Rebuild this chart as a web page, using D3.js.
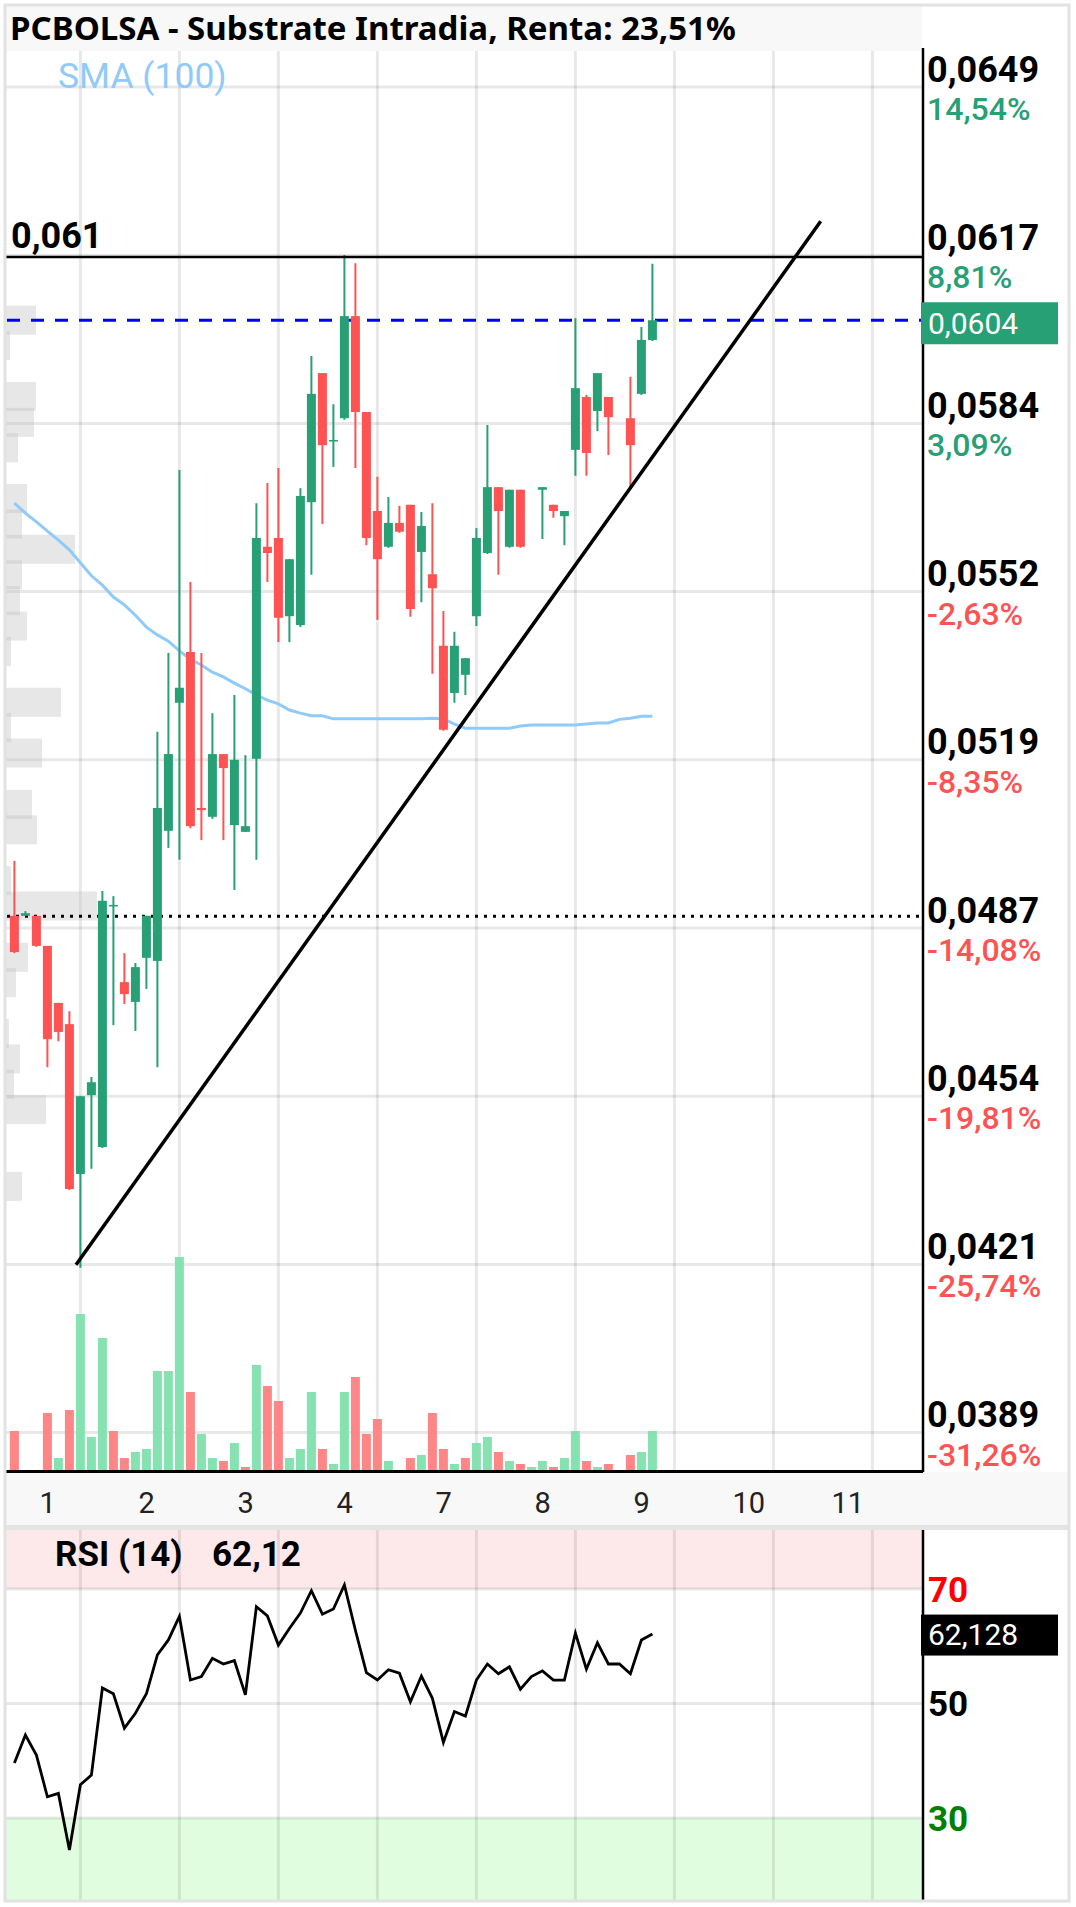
<!DOCTYPE html>
<html><head><meta charset="utf-8">
<script src="https://cdn.jsdelivr.net/npm/d3@7"></script>
<style>html,body{margin:0;padding:0;background:#fff;} svg{display:block}</style>
</head><body><div id="chart"></div>
<script>
// ---------------- DATA ----------------
const title = "PCBOLSA - Substrate Intradia, Renta: 23,51%";
const smaLabel = "SMA (100)";
const dayLabels = ["1","2","3","4","7","8","9","10","11"];
const dayLabelIndex = [3,12,21,30,39,48,57,66,75];
const dayGridIndex = [6,15,24,33,42,51,60,69,78];

const opens = [0.04891,0.04891,0.04891,0.04833,0.04723,0.04682,0.04393,0.04545,0.04445,0.04910,
 0.04763,0.04725,0.04810,0.04804,0.05055,0.05302,0.05400,0.05099,0.05082,0.05203,
 0.05066,0.05053,0.05194,0.05603,0.05620,0.05469,0.05452,0.05689,0.05938,0.05807,
 0.05851,0.06048,0.05863,0.05672,0.05603,0.05649,0.05684,0.05593,0.05550,0.05412,
 0.05321,0.05356,0.05469,0.05591,0.05718,0.05603,0.05713,null,0.05713,0.05684,
 0.05662,0.05790,0.05892,0.05865,0.05892,null,0.05851,0.05898,0.06002];
const highs = [0.04997,0.04900,0.04891,0.04833,0.04723,0.04707,0.04543,0.04580,0.04939,0.04929,
 0.04819,0.04800,0.04891,0.05246,0.05398,0.05751,0.05535,0.05398,0.05282,0.05203,
 0.05317,0.05201,0.05687,0.05726,0.05755,0.05579,0.05716,0.05971,0.05938,0.05878,
 0.06166,0.06150,0.05863,0.05738,0.05699,0.05682,0.05684,0.05670,0.05687,0.05479,
 0.05439,0.05388,0.05639,0.05838,0.05718,0.05713,0.05713,null,0.05718,0.05684,
 0.05672,0.06044,0.05896,0.05938,0.05892,null,0.05931,0.06027,0.06149];
const lows = [0.04819,0.04891,0.04831,0.04599,0.04649,0.04362,0.04212,0.04403,0.04443,0.04680,
 0.04721,0.04669,0.04750,0.04599,0.05022,0.04999,0.05060,0.05037,0.05078,0.05037,
 0.04941,0.05053,0.04999,0.05535,0.05419,0.05419,0.05448,0.05549,0.05647,0.05757,
 0.05848,0.05755,0.05606,0.05462,0.05601,0.05630,0.05468,0.05496,0.05358,0.05248,
 0.05302,0.05317,0.05450,0.05589,0.05549,0.05601,0.05601,null,0.05618,0.05659,
 0.05606,0.05740,0.05740,0.05826,0.05780,null,0.05714,0.05896,0.06000];
const closes = [0.04821,0.04896,0.04833,0.04653,0.04667,0.04364,0.04543,0.04570,0.04920,0.04912,
 0.04740,0.04792,0.04891,0.05099,0.05203,0.05331,0.05064,0.05095,0.05203,0.05176,
 0.05192,0.05064,0.05620,0.05591,0.05466,0.05579,0.05701,0.05898,0.05799,0.05809,
 0.06048,0.05863,0.05620,0.05579,0.05649,0.05632,0.05483,0.05643,0.05523,0.05250,
 0.05412,0.05388,0.05620,0.05718,0.05672,0.05713,0.05603,null,0.05718,0.05672,
 0.05672,0.05909,0.05784,0.05938,0.05853,null,0.05799,0.06002,0.06040];
const volumes = [39,0,0,57,12,60,156,33,132,39,
 12,18,21,99,99,213,78,36,12,9,
 27,3,105,84,69,12,21,78,21,6,
 78,93,36,51,9,0,12,15,57,21,
 6,12,27,33,18,9,6,3,9,3,
 12,39,9,3,6,0,15,18,39];
const sma100 = [0.05687,0.05668,0.05651,0.05633,0.05616,0.05597,0.05572,0.05547,0.05529,0.05506,
 0.05491,0.05471,0.05448,0.05433,0.05421,0.05402,0.05386,0.05375,0.05361,0.05352,
 0.05340,0.05329,0.05317,0.05307,0.05300,0.05288,0.05282,0.05277,0.05277,0.05271,
 0.05271,0.05271,0.05271,0.05271,0.05271,0.05271,0.05271,0.05271,0.05272,0.05271,
 0.05261,0.05253,0.05253,0.05253,0.05253,0.05253,0.05257,0.05259,0.05259,0.05259,
 0.05259,0.05259,0.05261,0.05263,0.05263,0.05270,0.05272,0.05276,0.05276];
const rsi14 = [39.6,44.5,41.0,33.7,34.3,24.4,35.8,37.5,52.7,51.7,
 45.7,48.3,51.7,58.5,61.1,65.2,54.1,54.7,57.9,56.9,
 57.5,51.5,66.9,65.3,60.2,63.1,65.8,69.7,65.6,66.5,
 70.7,62.8,55.4,54.1,55.9,55.3,50.3,54.8,50.9,43.2,
 48.6,47.8,54.1,56.9,55.2,56.4,52.5,54.7,55.7,54.1,
 54.1,62.3,56.0,60.6,56.9,56.9,55.2,61.1,62.128];

const priceTicks = [0.0649,0.061655,0.05841,0.055165,0.05192,0.048675,0.04543,0.042185,0.03894];
const priceTickLabels = ["0,0649","0,0617","0,0584","0,0552","0,0519","0,0487","0,0454","0,0421","0,0389"];
const pctTickLabels = ["14,54%","8,81%","3,09%","-2,63%","-8,35%","-14,08%","-19,81%","-25,74%","-31,26%"];

const profilePrices = [0.06040,0.05991,0.05942,0.05893,0.05843,0.05794,0.05745,0.05696,0.05647,0.05598,
 0.05549,0.05499,0.05450,0.05401,0.05352,0.05303,0.05254,0.05205,0.05155,0.05106,
 0.05057,0.05008,0.04959,0.04910,0.04861,0.04811,0.04762,0.04713,0.04664,0.04615,
 0.04566,0.04517,0.04467,0.04418,0.04369];
const profileVols = [31,5,0,31,29,13,0,22,17,70,17,15,22,6,0,56,6,37,0,27,32,0,6,92,0,23,11,0,4,15,9,41,0,0,17];

const resistanceLevel = 0.06162, resistanceLabel = "0,061";
const refLevel = 0.0489;
const trendIdx = [5.6, 73.3];
const trendPrice = [0.04218, 0.06231];
const rsiLevels = [70, 50, 30];
const rsiLevelLabels = ["70","50","30"];

// ---------------- CHART ----------------
const W = 1076, H = 1907;
const GREEN = "#26a074", RED = "#ff5252";
const svg = d3.select('#chart').append('svg').attr('width', W).attr('height', H)
  .style('font-family', 'Roboto, "Noto Sans", sans-serif');

const PL = 5, PR = 923, PT = 51, PB = 1471;
const RT = 1530, RB = 1900;
const x = d3.scaleLinear().domain([0, 58]).range([14.4, 652.4]);
const y = d3.scaleLinear().domain([0.03894, 0.0649]).range([1432.6, 87]);
const yVol = d3.scaleLinear().domain([0, 213]).range([1470, 1257]);
const yRsi = d3.scaleLinear().domain([30, 70]).range([1818, 1589]);
const wProf = d3.scaleLinear().domain([0, 100]).range([0, 100]);

svg.append('rect').attr('width', W).attr('height', H).attr('fill', '#fff');
// title bar
svg.append('rect').attr('x', 5).attr('y', 5).attr('width', 917).attr('height', 46).attr('fill', '#f8f8f8');
// x-axis band
svg.append('rect').attr('x', 5).attr('y', 1472).attr('width', 1065).attr('height', 53).attr('fill', '#f8f8f8');
svg.append('rect').attr('x', 5).attr('y', 1525).attr('width', 1065).attr('height', 5).attr('fill', '#e4e4e4');
// RSI bands
svg.append('rect').attr('x', PL).attr('y', RT).attr('width', PR - PL).attr('height', yRsi(70) - RT).attr('fill', '#fde9e9');
svg.append('rect').attr('x', PL).attr('y', yRsi(30)).attr('width', PR - PL).attr('height', RB - yRsi(30)).attr('fill', '#e0fde0');

// grids main
const grid = svg.append('g').attr('stroke', '#000').attr('stroke-opacity', 0.09).attr('stroke-width', 3);
dayGridIndex.forEach(i => {
  grid.append('line').attr('x1', x(i)).attr('x2', x(i)).attr('y1', PT).attr('y2', PB);
  grid.append('line').attr('x1', x(i)).attr('x2', x(i)).attr('y1', RT).attr('y2', RB);
});
priceTicks.forEach(t => grid.append('line').attr('x1', PL).attr('x2', PR).attr('y1', y(t)).attr('y2', y(t)));
rsiLevels.forEach(v => grid.append('line').attr('x1', PL).attr('x2', PR).attr('y1', yRsi(v)).attr('y2', yRsi(v)));

// volume profile
const binHalf = 0.00028;
svg.append('g').selectAll('rect').data(profilePrices.map((p, k) => ({p, v: profileVols[k]})).filter(d => d.v > 0))
  .join('rect')
  .attr('x', PL).attr('width', d => wProf(d.v))
  .attr('y', d => y(d.p + binHalf)).attr('height', d => y(d.p - binHalf) - y(d.p + binHalf))
  .attr('fill', '#c4c4c4').attr('fill-opacity', 0.4);

// volume bars
svg.append('g').selectAll('rect').data(volumes.map((v, i) => ({v, i})).filter(d => d.v > 0))
  .join('rect')
  .attr('x', d => x(d.i) - 4.5).attr('width', 9)
  .attr('y', d => yVol(d.v)).attr('height', d => yVol(0) - yVol(d.v))
  .attr('fill', d => (d.i > 0 && rsi14[d.i] >= rsi14[d.i - 1]) ? '#7fe0ad' : '#ff7f7f')
  .attr('fill-opacity', 0.95);

// SMA
svg.append('path').datum(sma100)
  .attr('d', d3.line().x((d, i) => x(i)).y(d => y(d)))
  .attr('fill', 'none').attr('stroke', '#90caf9').attr('stroke-width', 3);

// dashed last price & dotted ref
const last = closes[closes.length - 1];
svg.append('line').attr('x1', 7).attr('x2', PR).attr('y1', y(last)).attr('y2', y(last))
  .attr('stroke', '#0000ff').attr('stroke-width', 3).attr('stroke-dasharray', '13,11');
svg.append('line').attr('x1', 7).attr('x2', PR).attr('y1', y(refLevel)).attr('y2', y(refLevel))
  .attr('stroke', '#000').attr('stroke-width', 3).attr('stroke-dasharray', '3,6');

// candles
const candles = opens.map((o, i) => ({i, o, h: highs[i], l: lows[i], c: closes[i]})).filter(d => d.o !== null);
const cg = svg.append('g');
candles.forEach(d => {
  const col = d.c >= d.o ? GREEN : RED;
  cg.append('line').attr('x1', x(d.i)).attr('x2', x(d.i)).attr('y1', y(d.h)).attr('y2', y(d.l))
    .attr('stroke', col).attr('stroke-width', 2);
  const top = y(Math.max(d.o, d.c)), bot = y(Math.min(d.o, d.c));
  cg.append('rect').attr('x', x(d.i) - 4.5).attr('width', 9).attr('y', top).attr('height', Math.max(1.5, bot - top)).attr('fill', col);
});

// resistance line
svg.append('line').attr('x1', PL).attr('x2', PR).attr('y1', y(resistanceLevel)).attr('y2', y(resistanceLevel))
  .attr('stroke', '#000').attr('stroke-width', 2.5);
svg.append('text').attr('x', 11).attr('y', y(resistanceLevel) - 9).text(resistanceLabel)
  .attr('font-size', 36).attr('font-weight', 700).attr('fill', '#000');

// trend line
svg.append('line').attr('x1', x(trendIdx[0])).attr('y1', y(trendPrice[0])).attr('x2', x(trendIdx[1])).attr('y2', y(trendPrice[1]))
  .attr('stroke', '#000').attr('stroke-width', 3.5);

// axes lines
svg.append('line').attr('x1', PR).attr('x2', PR).attr('y1', 48).attr('y2', 1472).attr('stroke', '#000').attr('stroke-width', 2.5);
svg.append('line').attr('x1', PL).attr('x2', PR).attr('y1', 1471.5).attr('y2', 1471.5).attr('stroke', '#000').attr('stroke-width', 3);
svg.append('line').attr('x1', PR).attr('x2', PR).attr('y1', RT).attr('y2', RB).attr('stroke', '#000').attr('stroke-width', 2.5);

// frame
svg.append('rect').attr('x', 5).attr('y', 5).attr('width', 1064).attr('height', 1896)
  .attr('fill', 'none').attr('stroke', '#e2e2e2').attr('stroke-width', 3);

// right price labels
const ax = svg.append('g');
priceTicks.forEach((t, k) => {
  ax.append('text').attr('x', 927).attr('y', y(t) - 5.5).text(priceTickLabels[k])
    .attr('font-size', 36).attr('font-weight', 700).attr('fill', '#000');
  ax.append('text').attr('x', 927).attr('y', y(t) + 33).text(pctTickLabels[k])
    .attr('font-size', 32).attr('font-weight', 500).attr('fill', pctTickLabels[k].startsWith('-') ? RED : GREEN);
});
// last price box
const fmt4 = v => d3.format('.4f')(v).replace('.', ',');
svg.append('rect').attr('x', 921).attr('y', y(last) - 18).attr('width', 137).attr('height', 42).attr('fill', GREEN);
svg.append('text').attr('x', 928).attr('y', y(last) + 14).text(fmt4(last))
  .attr('font-size', 30).attr('fill', '#fff');

// x labels
dayLabels.forEach((lab, k) => {
  svg.append('text').attr('x', x(dayLabelIndex[k]) - 8).attr('y', 1513).text(lab)
    .attr('font-size', 29).attr('fill', '#222');
});

// title
const tt = svg.append('text').attr('x', 10).attr('y', 40).text(title)
  .attr('font-family', '"Noto Sans", "Open Sans", sans-serif').attr('font-weight', 700).attr('font-size', 34).attr('fill', '#000');
const tw = tt.node().getComputedTextLength();
tt.attr('font-size', 34 * 726 / tw);

// SMA label
svg.append('text').attr('x', 58).attr('y', 88).text(smaLabel).attr('font-size', 35.5).attr('fill', '#90caf9');

// RSI
svg.append('path').datum(rsi14)
  .attr('d', d3.line().x((d, i) => x(i)).y(d => yRsi(d)))
  .attr('fill', 'none').attr('stroke', '#000').attr('stroke-width', 2.8).attr('stroke-linejoin', 'miter');
const rsiLast = rsi14[rsi14.length - 1];
svg.append('text').attr('x', 55).attr('y', 1566).text('RSI (14)').attr('font-size', 35).attr('font-weight', 700).attr('fill', '#000');
svg.append('text').attr('x', 212).attr('y', 1566).text((Math.floor(rsiLast * 100) / 100).toFixed(2).replace('.', ','))
  .attr('font-size', 35).attr('font-weight', 700).attr('fill', '#000');
const rsiCols = ['#ff0000', '#000', '#008000'];
rsiLevels.forEach((v, k) => {
  svg.append('text').attr('x', 928).attr('y', yRsi(v) + 12.5).text(rsiLevelLabels[k])
    .attr('font-size', 35).attr('font-weight', 700).attr('fill', rsiCols[k]);
});
svg.append('rect').attr('x', 921).attr('y', yRsi(rsiLast) - 19.5).attr('width', 137).attr('height', 41).attr('fill', '#000');
svg.append('text').attr('x', 928).attr('y', yRsi(rsiLast) + 11).text(d3.format('.3f')(rsiLast).replace('.', ','))
  .attr('font-size', 30).attr('fill', '#fff');
</script>
</body></html>
